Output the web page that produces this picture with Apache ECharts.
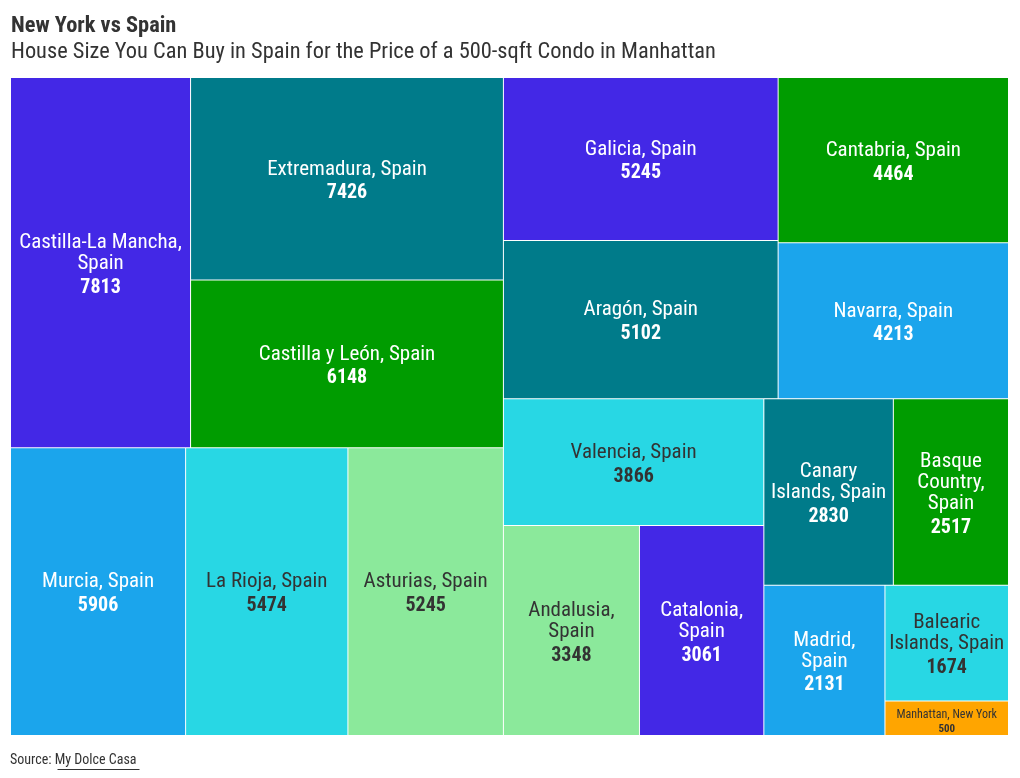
<!DOCTYPE html>
<html>
<head>
<meta charset="utf-8">
<script src="https://cdn.jsdelivr.net/npm/echarts@6/dist/echarts.min.js"></script>
<style>
html,body{margin:0;padding:0;background:#fff;}
#chart{width:1020px;height:778px;}
</style>
</head>
<body>
<div id="chart"></div>
<script>
const FONT = '"Roboto Condensed", "Liberation Sans Narrow", "DejaVu Sans Condensed", Roboto, sans-serif';

const titleText = 'New York vs Spain';
const subtitleText = 'House Size You Can Buy in Spain for the Price of a 500-sqft Condo in Manhattan';
const sourceLabel = 'Source: ';
const sourceName = 'My Dolce Casa';

// Region names (line breaks as in the reference labels)
const regions = [
  'Castilla-La Mancha,\nSpain',
  'Extremadura, Spain',
  'Castilla y León, Spain',
  'Murcia, Spain',
  'La Rioja, Spain',
  'Asturias, Spain',
  'Galicia, Spain',
  'Aragón, Spain',
  'Cantabria, Spain',
  'Navarra, Spain',
  'Valencia, Spain',
  'Andalusia,\nSpain',
  'Catalonia,\nSpain',
  'Canary\nIslands, Spain',
  'Basque\nCountry,\nSpain',
  'Madrid,\nSpain',
  'Balearic\nIslands, Spain',
  'Manhattan, New York'
];
// House size in sqft
const sizes = [7813, 7426, 6148, 5906, 5474, 5245, 5245, 5102, 4464, 4213, 3866, 3348, 3061, 2830, 2517, 2131, 1674, 500];

const palette = ['#4328E6', '#007B8A', '#009C00', '#1BA5EC', '#28D7E4', '#8BE99B'];
const paletteText = ['#ffffff', '#ffffff', '#ffffff', '#ffffff', '#333333', '#333333'];
const highlightColor = '#FFA500';

// Grouping of item indices (nesting used to reproduce the reference tiling)
const grouping = [
  [[0, [1, 2]], [3, 4, 5]],
  [[[6, 7], [8, 9]], [[10, [11, 12]], [[13, 14], [15, [16, 17]]]]]
];

const BIG = { name: 21, nameLH: 21, value: 20, valueLH: 27 };
const SMALL = { name: 12, nameLH: 18, value: 11, valueLH: 11 };
const LABEL_SHIFT = 4;

function labelHeight(i) {
  const s = i === sizes.length - 1 ? SMALL : BIG;
  return regions[i].split('\n').length * s.nameLH + s.valueLH;
}

function build(node, heights) {
  if (typeof node === 'number') {
    const i = node;
    const isLast = i === sizes.length - 1;
    const fill = isLast ? highlightColor : palette[i % palette.length];
    const tc = isLast ? '#333333' : paletteText[i % palette.length];
    const s = isLast ? SMALL : BIG;
    let pt = 0;
    if (heights && heights[i] != null) {
      const inner = heights[i] - 1;
      const c = labelHeight(i);
      pt = Math.max(Math.min((inner - c) / 2 + LABEL_SHIFT, inner - c - 0.3), 0);
    }
    return {
      name: regions[i],
      value: sizes[i],
      itemStyle: { color: fill, borderColor: '#ffffff', borderWidth: 0.5, gapWidth: 0 },
      label: {
        color: tc,
        padding: [pt, 0, 0, 0],
        rich: {
          n: { fontSize: s.name, lineHeight: s.nameLH, fontFamily: FONT, color: tc },
          v: { fontSize: s.value, lineHeight: s.valueLH, fontWeight: 'bold', fontFamily: FONT, color: tc }
        }
      }
    };
  }
  return { children: node.map(function (c) { return build(c, heights); }) };
}

function makeOption(heights) {
  return {
    animation: false,
    backgroundColor: '#ffffff',
    title: [
      { text: titleText, left: 11, top: 15, padding: 0,
        textStyle: { fontFamily: FONT, fontSize: 22.4, fontWeight: 'bold', color: '#333333' } },
      { text: subtitleText, left: 11, top: 41, padding: 0,
        textStyle: { fontFamily: FONT, fontSize: 22.4, fontWeight: 'normal', color: '#333333' } },
      { text: sourceLabel + sourceName, left: 10, top: 753, padding: 0,
        textStyle: { fontFamily: FONT, fontSize: 14, fontWeight: 'normal', color: '#333333' } }
    ],
    graphic: [
      { type: 'line', left: 55, top: 767, shape: { x1: 0, y1: 0, x2: 82, y2: 0 },
        style: { stroke: '#333333', lineWidth: 1 } }
    ],
    series: [{
      type: 'treemap',
      left: 10.5, top: 77.5, width: 998, height: 658,
      sort: false,
      squareRatio: 1,
      roam: false,
      nodeClick: false,
      silent: true,
      breadcrumb: { show: false },
      visibleMin: 0,
      itemStyle: { borderWidth: 0, gapWidth: 0, borderColor: '#ffffff' },
      label: {
        show: true,
        position: 'inside',
        align: 'center',
        verticalAlign: 'middle',
        overflow: 'none',
        fontFamily: FONT,
        formatter: function (p) {
          return '{n|' + p.name + '}\n{v|' + p.value + '}';
        }
      },
      upperLabel: { show: false },
      data: grouping.map(function (g) { return build(g, heights); })
    }]
  };
}

const chart = echarts.init(document.getElementById('chart'), null, { renderer: 'canvas' });
chart.setOption(makeOption(null));

// Read the cell heights that the treemap layout produced, then centre the labels vertically.
const sData = chart.getModel().getSeriesByIndex(0).getData();
const heights = {};
for (let k = 0; k < sData.count(); k++) {
  const idx = regions.indexOf(sData.getName(k));
  const lay = sData.getItemLayout(k);
  if (idx >= 0 && lay) heights[idx] = lay.height;
}
chart.setOption(makeOption(heights), true);
</script>
</body>
</html>
